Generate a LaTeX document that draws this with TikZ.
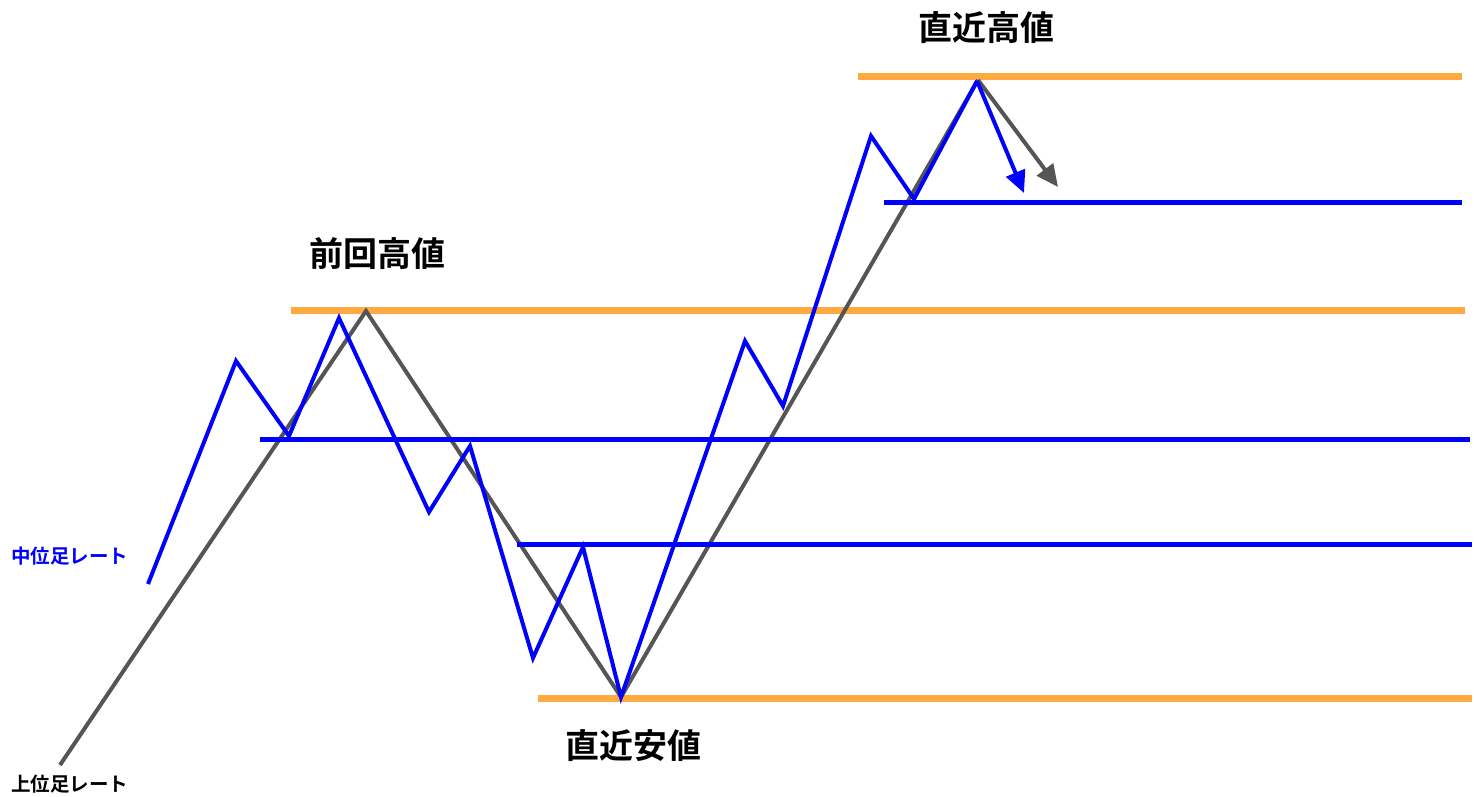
\documentclass[tikz,border=0pt]{standalone}
\usepackage{fontspec}
\newfontfamily\jp{Noto Sans CJK JP}[BoldFont={Noto Sans CJK JP Bold}]
\usetikzlibrary{arrows.meta}
\definecolor{lvorange}{RGB}{255,170,64}
\definecolor{trendgray}{RGB}{85,85,85}
\definecolor{midblue}{RGB}{0,0,255}
\tikzset{
  levelline/.style={draw=lvorange,line width=7pt},
  blueline/.style={draw=midblue,line width=5pt},
  grayline/.style={draw=trendgray,line width=4pt},
  zig/.style={draw=midblue,line width=4pt},
  tiphead/.style={-{Triangle[length=22pt,width=20pt]}},
  biglabel/.style={font=\jp\bfseries\fontsize{34pt}{34pt}\selectfont,inner sep=0pt},
  smalllabel/.style={font=\jp\bfseries\fontsize{19.5pt}{19.5pt}\selectfont,inner sep=0pt},
}
\begin{document}
\begin{tikzpicture}[x=1pt,y=-1pt]
\useasboundingbox (0,0) rectangle (1474,796);
% orange levels
\coordinate (o1a) at (858,76);  \coordinate (o1b) at (1462,76);
\coordinate (o2a) at (291,310); \coordinate (o2b) at (1465,310);
\coordinate (o3a) at (538,698); \coordinate (o3b) at (1472,698);
\draw[levelline] (o1a) -- (o1b);
\draw[levelline] (o2a) -- (o2b);
\draw[levelline] (o3a) -- (o3b);
% gray higher-timeframe line
\coordinate (g0) at (60,765);
\coordinate (g1) at (366,311);
\coordinate (g2) at (621,697);
\coordinate (g3) at (978,80);
\coordinate (g4) at (1058,187);
\draw[grayline] (g0) -- (g1) -- (g2) -- (g3);
\draw[grayline,tiphead] (g3) -- (g4);
% blue horizontal lines
\coordinate (b1a) at (884,202); \coordinate (b1b) at (1462,202);
\coordinate (b2a) at (260,439); \coordinate (b2b) at (1470,439);
\coordinate (b3a) at (517,544); \coordinate (b3b) at (1472,544);
\draw[blueline] (b1a) -- (b1b);
\draw[blueline] (b2a) -- (b2b);
\draw[blueline] (b3a) -- (b3b);
% blue mid-timeframe zigzag
\coordinate (z0) at (148,584);
\coordinate (z1) at (236,361);
\coordinate (z2) at (289,436);
\coordinate (z3) at (339,318);
\coordinate (z4) at (429,512);
\coordinate (z5) at (470,446);
\coordinate (z6) at (533,658);
\coordinate (z7) at (583,547);
\coordinate (z8) at (621,697);
\coordinate (z9) at (745,341);
\coordinate (z10) at (783,406);
\coordinate (z11) at (871,136);
\coordinate (z12) at (914,199);
\coordinate (z13) at (977,81);
\coordinate (z14) at (1024,193);
\draw[zig] (z0) -- (z1) -- (z2) -- (z3) -- (z4) -- (z5) -- (z6) -- (z7) -- (z8) -- (z9) -- (z10) -- (z11) -- (z12) -- (z13);
\draw[zig,tiphead] (z13) -- (z14);
% labels
\node[biglabel] (hi) at (986,28) {直近高値};
\node[biglabel] (prev) at (377,254) {前回高値};
\node[biglabel] (lo) at (633,746) {直近安値};
\node[smalllabel,text=midblue] (mid) at (70,556) {中位足レート};
\node[smalllabel,text=black] (up) at (70,784) {上位足レート};
\end{tikzpicture}
\end{document}
